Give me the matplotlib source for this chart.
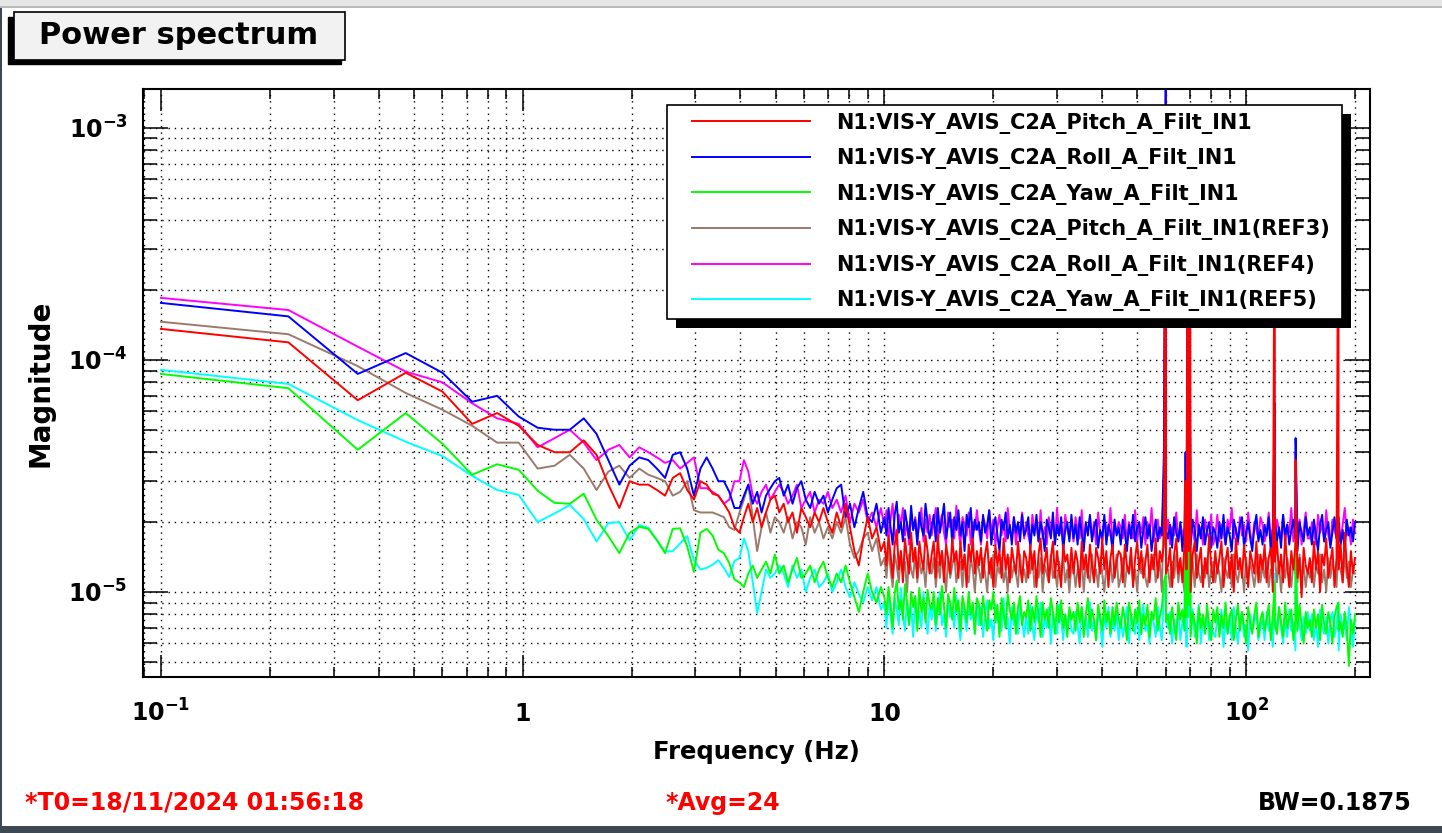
import numpy as np
import matplotlib
matplotlib.use("Agg")
import matplotlib.pyplot as plt
from matplotlib.patches import Rectangle
from matplotlib.lines import Line2D
from matplotlib.legend_handler import HandlerLine2D
from matplotlib.ticker import LogLocator, NullFormatter
from matplotlib.transforms import IdentityTransform

plt.rcParams['font.family'] = ['DejaVu Sans']
plt.rcParams['font.weight'] = 'bold'
plt.rcParams['mathtext.fontset'] = 'dejavusans'
plt.rcParams['mathtext.default'] = 'bf'

# low band: FFT bins 0.1 Hz + k * 0.125 Hz (k = 0..30), values in 1e-6
freq_lo = 0.1 + 0.125 * np.arange(31)
# 4-10 Hz: values read at log-spaced positions, in 1e-6
freq_mid = np.geomspace(3.975, 9.78, 33)
# 10-200 Hz: values read at log-spaced positions, in 1e-7
freq_band = np.geomspace(10.0, 200.0, 230)
# line features, in 1e-6
spike_freq = [60.0, 68.0, 69.0, 70.0, 120.0, 137.0, 180.0]

labels = [
    "N1:VIS-Y_AVIS_C2A_Pitch_A_Filt_IN1",
    "N1:VIS-Y_AVIS_C2A_Roll_A_Filt_IN1",
    "N1:VIS-Y_AVIS_C2A_Yaw_A_Filt_IN1",
    "N1:VIS-Y_AVIS_C2A_Pitch_A_Filt_IN1(REF3)",
    "N1:VIS-Y_AVIS_C2A_Roll_A_Filt_IN1(REF4)",
    "N1:VIS-Y_AVIS_C2A_Yaw_A_Filt_IN1(REF5)",
]
colors = ['#ff0000', '#0000ff', '#00ff00', '#9b7a6c', '#ff00ff', '#00ffff']

pitch_lo = [136, 119, 67, 88, 73, 53, 59, 52, 43, 40, 40, 45, 39, 29, 23, 30,
            29, 29, 27.5, 26, 31, 32.5, 27.5, 25, 30, 29, 26.5, 26, 24, 22, 19]
roll_lo = [176, 154, 87, 107, 88, 66, 70, 57, 51, 50, 50, 56, 48, 37, 29, 35,
           38, 37, 34, 31, 39, 40, 34, 26, 34, 38, 34, 30, 30, 27, 23]
yaw_lo = [87, 75.5, 41, 59, 43.5, 32, 35.5, 33.6, 27.3, 24.2, 24, 26.5, 20.5,
          17.4, 14.7, 18, 19.1, 18.7, 16.7, 14.7, 18.7, 18.8, 15.7, 12.2, 18,
          18.7, 17.5, 15.2, 14.7, 13.3, 11.3]
pitch_ref_lo = [146, 129, 94, 72, 61, 52, 44, 44, 34, 35, 39, 34, 27.5, 33, 35,
                31, 34, 32, 31, 30, 26, 27, 30, 22.5, 22, 22, 22, 21.5, 21, 19, 18.5]
roll_ref_lo = [185, 164, 114, 89, 80, 65, 56, 53, 42, 46, 50, 44, 37, 41, 43, 38,
               42, 40, 38, 36, 37, 34, 36, 38, 28, 28, 27, 26, 24, 25, 30]
yaw_ref_lo = [90.6, 78.8, 55, 44.4, 38.5, 31.6, 27.5, 26.2, 20, 21.8, 23.7, 20.6,
              16.5, 19.8, 20, 16.7, 19.4, 18.9, 16.7, 14.9, 15, 16.2, 17.4, 13.7,
              12.5, 12.7, 13.1, 13.7, 12.7, 11.6, 13.6]

pitch_mid = [18, 21, 24, 20, 23, 19, 22, 25, 26, 22, 24, 20, 22, 18, 23, 21, 19,
             22, 20, 23, 20, 18, 22, 19, 24, 19, 15, 13, 17, 21, 17, 19, 15]
roll_mid = [23, 26, 29, 24, 27, 22, 26, 28, 30, 31, 26, 29, 24, 28, 30, 25, 23,
            27, 24, 26, 22, 25, 28, 29, 21, 24, 19, 23, 27, 21, 20, 24, 18]
yaw_mid = [11, 10.5, 12, 13, 11.5, 12.5, 13.5, 12, 14.5, 12, 13, 11, 12.5, 14,
           11.5, 12, 13, 11, 12.5, 13.5, 11.5, 10.5, 12, 11, 13, 11, 9.5, 8.2,
           10, 12, 10, 9, 10.5]
pitch_ref_mid = [22, 25, 29, 21, 15, 19, 22, 18, 21, 20, 18, 21, 17, 20, 19, 16,
                 21, 18, 20, 17, 19, 17, 20, 18, 21, 16, 14, 15, 17, 18, 15, 17, 13]
roll_ref_mid = [30, 37, 33, 26, 24, 27, 29, 25, 27, 29, 27, 24, 26, 29, 23, 25,
                27, 22, 25, 24, 27, 23, 25, 22, 26, 20, 24, 22, 25, 20, 22, 19, 23]
yaw_ref_mid = [14, 17, 15, 11, 8.1, 10, 12.5, 11.5, 12, 13, 12, 10.5, 13, 11.5,
               12.5, 10, 11.5, 12.5, 10.5, 11, 12, 10, 11, 12.5, 10.5, 9.5, 11,
               9.8, 9, 10.5, 9.2, 10.5, 8.4]

pitch_band = [
    165, 130, 175, 145, 115, 160, 185, 125, 150, 110, 170, 140, 120, 180, 135, 155, 115, 165, 140, 125, 175, 150, 120,
    145, 165, 115, 175, 130, 150, 110, 160, 140, 120, 170, 135, 150, 115, 165, 125, 145, 105, 160, 135, 170, 120, 150,
    130, 155, 115, 145, 165, 120, 140, 105, 160, 130, 150, 115, 170, 125, 145, 110, 155, 135, 120, 165, 130, 110, 150,
    140, 115, 160, 125, 150, 105, 145, 170, 120, 135, 155, 110, 140, 165, 115, 150, 125, 105, 160, 135, 145, 115, 155,
    120, 150, 135, 105, 165, 125, 145, 115, 160, 130, 110, 155, 140, 120, 170, 125, 150, 105, 140, 160, 115, 135, 150,
    145, 110, 160, 130, 120, 155, 105, 140, 165, 125, 150, 115, 135, 160, 110, 145, 125, 170, 115, 150, 135, 160, 120,
    130, 155, 105, 145, 170, 120, 140, 110, 160, 125, 150, 100, 145, 165, 115, 135, 155, 105, 140, 120, 175, 130, 110,
    150, 120, 140, 165, 105, 135, 155, 115, 145, 100, 170, 125, 140, 115, 160, 130, 105, 150, 135, 120, 165, 110, 145,
    125, 160, 110, 140, 155, 100, 135, 165, 120, 145, 110, 175, 130, 105, 150, 125, 160, 115, 140, 95, 155, 130, 120,
    140, 110, 165, 125, 150, 100, 145, 130, 170, 115, 135, 155, 105, 140, 125, 160, 110, 180, 130, 105, 150, 120, 140]
roll_band = [
    210, 175, 230, 190, 160, 215, 245, 180, 200, 165, 225, 195, 170, 235, 185, 205, 160, 220, 190, 175, 240, 200, 170,
    190, 215, 165, 230, 180, 205, 240, 170, 195, 220, 160, 210, 185, 225, 175, 200, 150, 215, 190, 230, 170, 205, 185,
    200, 165, 215, 180, 195, 225, 160, 190, 210, 175, 150, 205, 185, 220, 170, 195, 160, 210, 180, 200, 165, 215, 175,
    185, 210, 155, 195, 175, 215, 165, 200, 180, 150, 205, 190, 170, 220, 160, 195, 175, 210, 150, 185, 200, 165, 215,
    170, 195, 160, 210, 180, 150, 200, 175, 215, 165, 190, 205, 155, 185, 170, 215, 160, 195, 180, 150, 205, 175, 190,
    160, 205, 180, 150, 195, 170, 215, 165, 190, 200, 155, 185, 210, 170, 195, 150, 180, 205, 165, 190, 175, 400, 185,
    170, 195, 155, 210, 180, 165, 200, 150, 190, 215, 175, 160, 205, 185, 150, 195, 170, 210, 160, 185, 200, 155, 190,
    180, 155, 200, 170, 215, 160, 190, 175, 150, 205, 185, 165, 195, 210, 155, 180, 200, 170, 150, 190, 215, 165, 185,
    160, 195, 175, 210, 150, 185, 200, 165, 190, 155, 215, 175, 195, 160, 185, 205, 170, 150, 200, 180, 165, 210, 175,
    190, 160, 205, 175, 150, 195, 215, 165, 185, 200, 155, 180, 210, 170, 195, 160, 185, 150, 205, 175, 190, 165, 200]
yaw_band = [
    95, 80, 105, 88, 70, 98, 112, 84, 92, 76, 108, 90, 72, 100, 86, 96, 68, 104, 82, 94, 74, 102, 88,
    84, 100, 72, 94, 80, 106, 86, 70, 98, 90, 76, 104, 82, 92, 68, 96, 86, 74, 100, 80, 90, 66, 94,
    88, 72, 96, 80, 68, 92, 84, 100, 74, 88, 64, 94, 80, 70, 98, 84, 76, 90, 66, 86, 96, 72, 82,
    78, 92, 68, 86, 74, 96, 80, 64, 90, 76, 84, 70, 94, 82, 66, 88, 74, 92, 70, 80, 64, 86, 76,
    82, 68, 90, 74, 86, 64, 80, 94, 70, 84, 76, 62, 88, 78, 68, 92, 74, 82, 66, 86, 72, 90, 76,
    70, 86, 76, 62, 90, 80, 68, 84, 74, 92, 66, 80, 72, 88, 64, 82, 76, 94, 68, 78, 86, 110, 74,
    80, 66, 86, 72, 62, 90, 76, 84, 68, 78, 88, 64, 82, 74, 60, 86, 70, 80, 66, 88, 72, 62, 84,
    74, 86, 64, 80, 70, 90, 66, 78, 84, 62, 76, 88, 68, 82, 72, 60, 86, 74, 66, 80, 90, 64, 76,
    82, 68, 76, 88, 62, 80, 72, 66, 86, 74, 64, 90, 70, 78, 84, 62, 76, 68, 88, 72, 60, 82, 70,
    76, 64, 84, 70, 80, 62, 88, 72, 66, 82, 74, 60, 78, 86, 68, 74, 64, 82, 70, 48, 76, 66, 80]
pitch_ref_band = [
    140, 115, 155, 125, 105, 145, 130, 110, 150, 120, 135, 100, 145, 125, 115, 150, 110, 140, 120, 130, 105, 145, 125,
    120, 140, 105, 135, 115, 150, 125, 100, 140, 115, 130, 145, 110, 125, 135, 105, 145, 120, 110, 140, 125, 100, 135,
    125, 110, 140, 120, 100, 135, 115, 145, 105, 130, 120, 140, 110, 125, 100, 140, 115, 130, 120, 105, 145, 115, 125,
    110, 135, 120, 145, 105, 125, 115, 140, 100, 130, 120, 110, 145, 115, 125, 105, 135, 120, 140, 110, 125, 100, 130,
    130, 105, 125, 115, 140, 100, 135, 120, 110, 145, 115, 125, 105, 140, 120, 100, 130, 115, 135, 110, 125, 145, 105,
    115, 140, 105, 130, 120, 145, 110, 125, 100, 135, 120, 140, 115, 105, 130, 125, 145, 110, 120, 135, 100, 240, 125,
    125, 105, 135, 115, 145, 110, 130, 120, 100, 140, 115, 125, 135, 105, 145, 120, 110, 130, 115, 140, 105, 125, 135,
    110, 130, 120, 100, 140, 125, 115, 135, 105, 145, 120, 110, 130, 125, 100, 140, 115, 135, 120, 105, 125, 145, 110,
    130, 115, 140, 105, 125, 120, 145, 110, 135, 100, 130, 115, 140, 125, 105, 135, 120, 110, 145, 115, 130, 105, 125,
    115, 135, 105, 130, 120, 145, 110, 125, 100, 140, 115, 135, 120, 105, 130, 125, 110, 145, 115, 135, 105, 125, 120]
roll_ref_band = [
    190, 225, 170, 205, 240, 180, 160, 215, 195, 230, 175, 200, 160, 220, 185, 210, 170, 195, 230, 165, 205, 180, 215,
    175, 200, 230, 165, 195, 215, 180, 160, 220, 190, 205, 170, 235, 185, 160, 210, 195, 175, 220, 160, 200, 185, 225,
    185, 160, 210, 195, 170, 225, 180, 205, 160, 190, 215, 175, 200, 165, 230, 185, 170, 210, 160, 195, 180, 220, 170,
    200, 175, 160, 215, 185, 195, 165, 225, 170, 190, 160, 210, 180, 200, 165, 230, 175, 190, 160, 215, 185, 170, 205,
    165, 210, 185, 170, 225, 160, 195, 180, 210, 170, 200, 160, 220, 180, 165, 205, 190, 175, 230, 160, 195, 180, 200,
    190, 170, 215, 160, 200, 185, 170, 225, 165, 195, 180, 210, 160, 200, 175, 230, 165, 190, 205, 170, 185, 280, 175,
    205, 160, 190, 175, 220, 165, 195, 180, 160, 210, 170, 200, 185, 165, 225, 175, 190, 160, 205, 180, 170, 215, 160,
    175, 215, 165, 195, 180, 160, 205, 185, 230, 170, 190, 160, 210, 175, 195, 165, 220, 180, 160, 200, 185, 170, 210,
    195, 165, 180, 220, 170, 190, 160, 205, 185, 170, 215, 160, 195, 180, 230, 165, 190, 175, 205, 160, 185, 220, 170,
    170, 200, 185, 160, 215, 180, 195, 165, 225, 175, 160, 205, 185, 170, 210, 165, 195, 230, 175, 190, 160, 205, 180]
yaw_ref_band = [
    90, 70, 98, 78, 66, 94, 84, 72, 104, 80, 68, 92, 76, 86, 64, 96, 74, 82, 70, 100, 78, 66, 88,
    76, 92, 68, 84, 100, 72, 80, 64, 94, 78, 86, 70, 96, 74, 62, 88, 80, 68, 92, 76, 84, 66, 90,
    72, 86, 64, 80, 92, 70, 76, 62, 88, 74, 82, 68, 94, 70, 78, 60, 86, 72, 80, 66, 90, 74, 64,
    80, 66, 88, 70, 62, 84, 74, 90, 64, 78, 70, 86, 60, 82, 72, 66, 88, 76, 62, 80, 70, 84, 68,
    66, 82, 72, 60, 86, 70, 78, 64, 90, 68, 76, 62, 84, 74, 58, 80, 70, 86, 64, 76, 68, 82, 62,
    78, 64, 74, 86, 60, 80, 70, 66, 84, 62, 76, 88, 68, 72, 60, 82, 74, 64, 86, 70, 62, 100, 76,
    70, 82, 60, 76, 66, 86, 62, 74, 80, 58, 78, 68, 84, 64, 72, 88, 60, 76, 70, 82, 62, 74, 66,
    64, 78, 70, 84, 58, 74, 66, 80, 62, 86, 70, 60, 76, 82, 64, 72, 56, 80, 68, 74, 84, 62, 70,
    76, 62, 82, 68, 72, 58, 80, 66, 86, 70, 60, 78, 64, 84, 68, 74, 56, 80, 72, 62, 78, 66, 82,
    68, 80, 62, 74, 58, 84, 70, 66, 78, 60, 76, 82, 64, 72, 56, 80, 68, 74, 62, 86, 70, 58, 76]

pitch_spk = [1000, 30, 900, 700, 1000, 37, 1000]
roll_spk = [3000, 40, 600, 60, 65, 46, 20]
yaw_spk = [12, 14, 36, 18, 11, 16, 9]
pitch_ref_spk = [28, 22, 95, 45, 40, 35, 16]
roll_ref_spk = [2500, 25, 85, 50, 50, 40, 20]
yaw_ref_spk = [11, 20, 70, 25, 12, 15, 9]

series_lo = [pitch_lo, roll_lo, yaw_lo, pitch_ref_lo, roll_ref_lo, yaw_ref_lo]
series_mid = [pitch_mid, roll_mid, yaw_mid, pitch_ref_mid, roll_ref_mid, yaw_ref_mid]
series_band = [pitch_band, roll_band, yaw_band, pitch_ref_band, roll_ref_band, yaw_ref_band]
series_spk = [pitch_spk, roll_spk, yaw_spk, pitch_ref_spk, roll_ref_spk, yaw_ref_spk]

W, H = 1442, 833


def fx(px):
    return px / W


def fy(py):
    return 1 - py / H


fig = plt.figure(figsize=(W / 100, H / 100), dpi=100)
fig.patch.set_facecolor('white')

# window chrome
fig.add_artist(Rectangle((0, fy(6)), 1, 6 / H, transform=fig.transFigure,
                         facecolor='#e6e6e6', edgecolor='none'))
fig.add_artist(Rectangle((0, fy(7.5)), 1, 1.5 / H, transform=fig.transFigure,
                         facecolor='#b8b8b8', edgecolor='none'))
fig.add_artist(Rectangle((0, 0), 2 / W, fy(7.5), transform=fig.transFigure,
                         facecolor='#3d4852', edgecolor='none'))
fig.add_artist(Rectangle((0, 0), 1, 7 / H, transform=fig.transFigure,
                         facecolor='#3d4852', edgecolor='none'))

ax = fig.add_axes([fx(143), fy(677), (1370 - 143) / W, (677 - 89) / H])

f_all = np.concatenate([freq_lo, freq_mid, freq_band, spike_freq])
order = np.argsort(f_all, kind='stable')
lines = [None] * 6
for i in reversed(range(6)):
    v = np.concatenate([np.array(series_lo[i]) * 1e-6,
                        np.array(series_mid[i]) * 1e-6,
                        np.array(series_band[i]) * 1e-7,
                        np.array(series_spk[i]) * 1e-6])
    ln, = ax.plot(f_all[order], v[order], color=colors[i], lw=1.4, label=labels[i])
    lines[i] = ln

ax.set_xscale('log')
ax.set_yscale('log')
ax.set_xlim(0.0892, 220)
ax.set_ylim(4.3e-6, 1.47e-3)

ax.set_xticks([0.1, 1, 10, 100])
ax.set_xticklabels([r'$10^{-1}$', '1', '10', r'$10^{2}$'])
ax.set_yticks([1e-5, 1e-4, 1e-3])
ax.set_yticklabels([r'$10^{-5}$', r'$10^{-4}$', r'$10^{-3}$'])
for axis in (ax.xaxis, ax.yaxis):
    axis.set_minor_locator(LogLocator(base=10, subs=np.arange(2, 10), numticks=30))
    axis.set_minor_formatter(NullFormatter())

ax.tick_params(which='both', direction='in', top=True, right=True, width=1.1,
               labelsize=17, colors='black')
ax.tick_params(axis='x', which='major', length=16, pad=32)
ax.tick_params(axis='x', which='minor', length=7)
ax.tick_params(axis='y', which='major', length=18, pad=11)
ax.tick_params(axis='y', which='minor', length=10)
for t in ax.xaxis.get_major_ticks():
    t.label1.set_va('baseline')

ax.grid(True, which='both', color='black', linestyle=(0, (1, 3.5)), linewidth=1.0)
for sp in ax.spines.values():
    sp.set_linewidth(1.5)

ax.set_xlabel('Frequency (Hz)', fontsize=17.5, fontweight='bold', va='center')
ax.xaxis.set_label_coords(0.5, (677 - 752) / 588)
ax.set_ylabel('Magnitude', fontsize=20, fontweight='bold', va='center')
ax.yaxis.set_label_coords((40 - 143) / 1227, 0.5)

# legend
fs_pt = 15.0
fs_px = fs_pt * 100 / 72
bpad = 0.36
hb_left = 667 + bpad * fs_px
leg = ax.legend(handles=lines, labels=labels, loc='upper left',
                bbox_to_anchor=(fx(667), fy(319), (1342 - 667) / W, (319 - 105) / H),
                bbox_transform=fig.transFigure, mode='expand', borderaxespad=0,
                borderpad=bpad, handlelength=(810 - hb_left) / fs_px,
                handletextpad=(836 - 810) / fs_px, labelspacing=0.70,
                fontsize=fs_pt, frameon=True, fancybox=False, framealpha=1,
                edgecolor='black',
                handler_map={Line2D: HandlerLine2D(xpad=(692 - hb_left) / fs_px)})
leg.get_frame().set_linewidth(1.2)

# title box
fig.add_artist(Rectangle((fx(8), fy(64)), (341 - 8) / W, (64 - 17) / H,
                         transform=fig.transFigure, facecolor='black', edgecolor='black'))
fig.add_artist(Rectangle((fx(14), fy(60)), (345 - 14) / W, (60 - 12) / H,
                         transform=fig.transFigure, facecolor='#f2f2f2',
                         edgecolor='black', lw=1.2))
fig.text(fx(179), fy(36), 'Power spectrum', fontsize=22, ha='center', va='center')

# footer
fig.text(fx(25), fy(803), '*T0=18/11/2024 01:56:18', fontsize=17, color='#ff0000',
         ha='left', va='center')
fig.text(fx(665), fy(803), '*Avg=24', fontsize=17, color='#ff0000', ha='left', va='center')
fig.text(fx(1412), fy(803), 'BW=0.1875', fontsize=17, color='black', ha='right', va='center')

# legend drop shadow
fig.canvas.draw()
bb = leg.get_window_extent()
ax.add_artist(Rectangle((bb.x0 + 9, bb.y0 - 9), bb.width, bb.height,
                        transform=IdentityTransform(), facecolor='black',
                        edgecolor='none', zorder=leg.get_zorder() - 0.1, clip_on=False))

fig.savefig('out.png', dpi=100)
